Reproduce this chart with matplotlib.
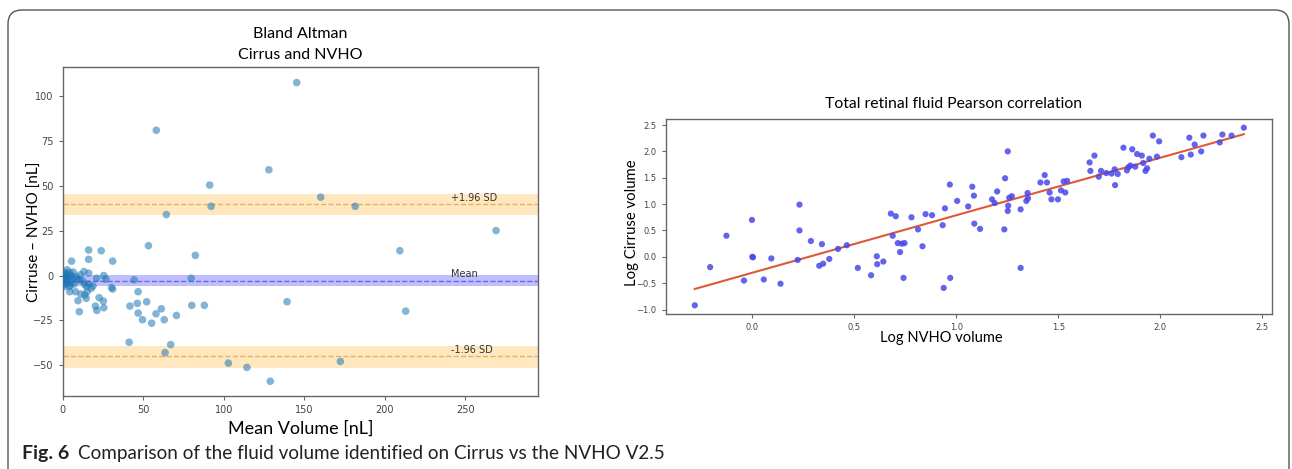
import numpy as np
import matplotlib
matplotlib.use('Agg')
import matplotlib.pyplot as plt
from matplotlib.patches import FancyBboxPatch

# Bland Altman points (mean volume, difference) in nL
ba_mean = [58.2, 145.3, 128.0, 91.3, 92.2, 64.4, 160.2, 181.6, 269.0,
           53.3, 82.4, 209.3, 16.2, 24.0, 16.2, 31.1, 5.6, 79.8, 44.4,
           139.3, 212.9, 41.8, 46.4, 52.2, 46.9, 80.2, 88.0, 46.9, 49.6,
           55.3, 58.0, 61.3, 63.1, 70.7, 41.3, 67.1, 63.6, 102.9, 114.4,
           128.9, 172.4,
           25.6, 26.9, 22.7, 25.3, 25.6, 20.4, 21.3, 10.4, 9.6, 8.0, 4.4,
           15.3, 13.8, 14.7, 11.3, 30.4, 31.1, 18.9, 16.2, 13.6, 13.3,
           16.2, 6.7, 2.9, 5.6, 8.4, 2.4, 1.1, 3.3, 4.2, 2.2, 10.4, 5.3,
           7.3, 4.4, 1.6, 0.2, 0.7, 14.9, 17.8, 21.1, 0.7, 3.8, 11.1,
           1.5, 2.0, 3.0, 6.0, 0.5, 1.2, 9.0, 12.5, 4.8, 2.6]
ba_diff = [80.8, 107.3, 58.8, 50.3, 38.5, 33.9, 43.6, 38.5, 25.0,
           16.6, 11.2, 13.8, 14.2, 13.8, 9.0, 8.0, 8.0, -1.5, -2.4,
           -14.6, -19.8, -17.0, -15.5, -14.6, -9.0, -16.6, -16.6, -20.9,
           -24.6, -26.5, -21.3, -18.5, -24.6, -22.2, -37.1, -38.4, -42.9,
           -48.7, -51.1, -58.8, -47.8,
           0.0, -2.0, -12.3, -14.2, -17.9, -17.0, -19.4, -20.1, -14.0,
           -9.0, -9.0, -9.0, -10.8, -12.7, -10.3, -6.7, -7.5, -5.8, -4.7,
           -4.9, 2.2, 1.3, 1.9, 3.2, -3.4, -0.6, -1.5, 0.4, -4.3, -6.2,
           -3.4, -2.4, 0.0, -4.7, 1.7, 1.7, -2.4, -4.3, -6.2, -7.1, -1.5,
           -6.2, -0.6, 0.4,
           -1.0, 0.8, -2.8, -1.2, -0.3, -5.0, -2.0, -3.0, -5.5, -0.8]

ba_bias = -2.9
ba_bias_ci = (-6.0, 0.1)
ba_upper = 39.8
ba_upper_ci = (33.6, 45.4)
ba_lower = -44.8
ba_lower_ci = (-51.5, -39.3)

# Pearson correlation points (log NVHO, log Cirruse)
log_nvho = [-0.282, -0.207, -0.127, -0.041, -0.002, 0.0, 0.003, 0.056, 0.093,
            0.138, 0.231, 0.231, 0.222, 0.287, 0.328, 0.341, 0.347, 0.377,
            0.42, 0.463, 0.517, 0.582, 0.61, 0.612, 0.642, 0.679, 0.703,
            0.688, 0.713, 0.724, 0.733, 0.746, 0.741, 0.78, 0.812, 0.834,
            0.849, 0.881, 0.933, 0.944, 0.938, 0.968, 0.97, 1.004, 1.058,
            1.078, 1.086, 1.088, 1.116, 1.175, 1.188, 1.2, 1.235, 1.239,
            1.252, 1.254, 1.252, 1.259, 1.272, 1.315, 1.315, 1.343, 1.349,
            1.351, 1.412, 1.433, 1.444, 1.457, 1.466, 1.498, 1.513, 1.526,
            1.534, 1.543, 1.653, 1.657, 1.677, 1.698, 1.709, 1.735, 1.761,
            1.776, 1.778, 1.791, 1.819, 1.836, 1.843, 1.853, 1.862, 1.877,
            1.886, 1.909, 1.916, 1.927, 1.935, 1.946, 1.963, 1.983, 1.994,
            2.103, 2.142, 2.149, 2.168, 2.2, 2.211, 2.291, 2.304, 2.349,
            2.409]
log_cirrus = [-0.92, -0.195, 0.40, -0.45, 0.70, 0.0, -0.01, -0.43, -0.03,
              -0.51, 0.99, 0.50, -0.06, 0.30, -0.17, 0.24, -0.13, -0.04,
              0.15, 0.22, -0.21, -0.35, 0.01, -0.14, -0.09, 0.82, 0.77,
              0.40, 0.26, 0.09, 0.25, 0.26, -0.40, 0.75, 0.52, 0.20, 0.81,
              0.79, 0.60, 0.92, -0.59, 1.37, -0.40, 1.06, 0.955, 1.33, 1.16,
              0.63, 0.53, 1.09, 1.02, 1.24, 0.52, 1.49, 2.00, 0.97, 0.87,
              1.12, 1.15, 0.90, -0.21, 1.06, 1.21, 1.11, 1.41, 1.55, 1.41,
              1.22, 1.09, 1.09, 1.26, 1.43, 1.22, 1.44, 1.79, 1.63, 1.92,
              1.52, 1.63, 1.59, 1.58, 1.66, 1.36, 1.57, 2.07, 1.64, 1.70,
              1.73, 2.04, 1.71, 1.95, 1.92, 1.78, 1.63, 1.68, 1.86, 2.30,
              1.90, 2.19, 1.89, 2.26, 1.94, 2.13, 2.00, 2.30, 2.17, 2.32,
              2.30, 2.45]

LABEL_FONT = ['Lato', 'DejaVu Sans']
TICK_COLOR = '#444444'
SPINE_COLOR = '#666666'
CAPTION = 'Comparison of the fluid volume identified on Cirrus vs the NVHO V2.5'


def style_axes(ax, tick_size):
    for s in ax.spines.values():
        s.set_color(SPINE_COLOR)
        s.set_linewidth(1.0)
    ax.tick_params(labelsize=tick_size, colors=SPINE_COLOR,
                   labelcolor=TICK_COLOR, length=3, width=0.8)


fig = plt.figure(figsize=(12.92, 4.69), dpi=100)

# page frame with rounded top corners
bg = fig.add_axes([0, 0, 1, 1], zorder=-10)
bg.set_xlim(0, 1292)
bg.set_ylim(469, 0)
bg.axis('off')
bg.add_patch(FancyBboxPatch((8, 10), 1281, 520,
                            boxstyle='round,pad=0,rounding_size=14',
                            fill=False, edgecolor='#555555', linewidth=1.0))

# ---- Bland Altman ----
ax1 = fig.add_axes([0.0484, 0.1557, 0.368, 0.7015])
ax1.axhspan(*ba_upper_ci, color='orange', alpha=0.25, lw=0)
ax1.axhspan(*ba_bias_ci, color='blue', alpha=0.25, lw=0)
ax1.axhspan(*ba_lower_ci, color='orange', alpha=0.25, lw=0)
ax1.axhline(ba_upper, color='#e8b060', ls='--', lw=1.0)
ax1.axhline(ba_bias, color='#6a6ae0', ls='--', lw=1.0)
ax1.axhline(ba_lower, color='#e8b060', ls='--', lw=1.0)
ax1.scatter(ba_mean, ba_diff, s=30, color='#1f77b4', alpha=0.55,
            edgecolors='none', zorder=3)
ax1.text(241, ba_upper + 0.8, '+1.96 SD', fontsize=7, color='#333333',
         va='bottom', ha='left')
ax1.text(241, ba_bias + 0.8, 'Mean', fontsize=7, color='#333333',
         va='bottom', ha='left')
ax1.text(241, ba_lower + 0.8, '-1.96 SD', fontsize=7, color='#333333',
         va='bottom', ha='left')
ax1.set_xlim(0, 295)
ax1.set_ylim(-67, 116)
ax1.set_xticks([0, 50, 100, 150, 200, 250])
ax1.set_yticks([-50, -25, 0, 25, 50, 75, 100])
style_axes(ax1, 7)
ax1.set_title('Bland Altman\nCirrus and NVHO', fontsize=11.5,
              family=LABEL_FONT, pad=6, linespacing=1.6)
ax1.set_xlabel('Mean Volume [nL]', fontsize=13, family=LABEL_FONT,
               labelpad=4)
ax1.set_ylabel('Cirruse \u2013 NVHO [nL]', fontsize=11, family=LABEL_FONT)
ax1.yaxis.set_label_coords(-0.044, 0.5)

# ---- Pearson correlation ----
ax2 = fig.add_axes([0.5152, 0.3299, 0.4693, 0.417])
ax2.scatter(log_nvho, log_cirrus, s=20, color='#4848e8', alpha=0.85,
            edgecolors='none', zorder=3)
slope, intercept = np.polyfit(log_nvho, log_cirrus, 1)
xs = np.array([min(log_nvho), max(log_nvho)])
ax2.plot(xs, slope * xs + intercept, color='#e0583a', lw=1.5, zorder=2)
ax2.set_xlim(-0.425, 2.547)
ax2.set_ylim(-1.09, 2.62)
ax2.set_xticks([0.0, 0.5, 1.0, 1.5, 2.0, 2.5])
ax2.set_yticks([-1.0, -0.5, 0.0, 0.5, 1.0, 1.5, 2.0, 2.5])
style_axes(ax2, 6)
ax2.set_title('Total retinal fluid Pearson correlation', fontsize=11.3,
              family=LABEL_FONT, x=0.4755, pad=8)
ax2.set_xlabel('Log NVHO volume', fontsize=10.5, family=LABEL_FONT)
ax2.xaxis.set_label_coords(0.454, -0.085)
ax2.set_ylabel('Log Cirruse volume', fontsize=10.7, family=LABEL_FONT)
ax2.yaxis.set_label_coords(-0.044, 0.47)

# ---- caption ----
fig_lbl = fig.text(22 / 1292, 1 - 459 / 469, 'Fig. 6', fontsize=14,
                   fontweight='bold', family=LABEL_FONT, color='#222222',
                   va='baseline')
fig.add_artist(plt.Annotation(CAPTION, xy=(1, 0), xycoords=fig_lbl,
                              xytext=(6, 0), textcoords='offset points',
                              va='bottom', fontsize=13.6, family=LABEL_FONT,
                              color='#222222', annotation_clip=False))

fig.savefig('out.png', dpi=100)
